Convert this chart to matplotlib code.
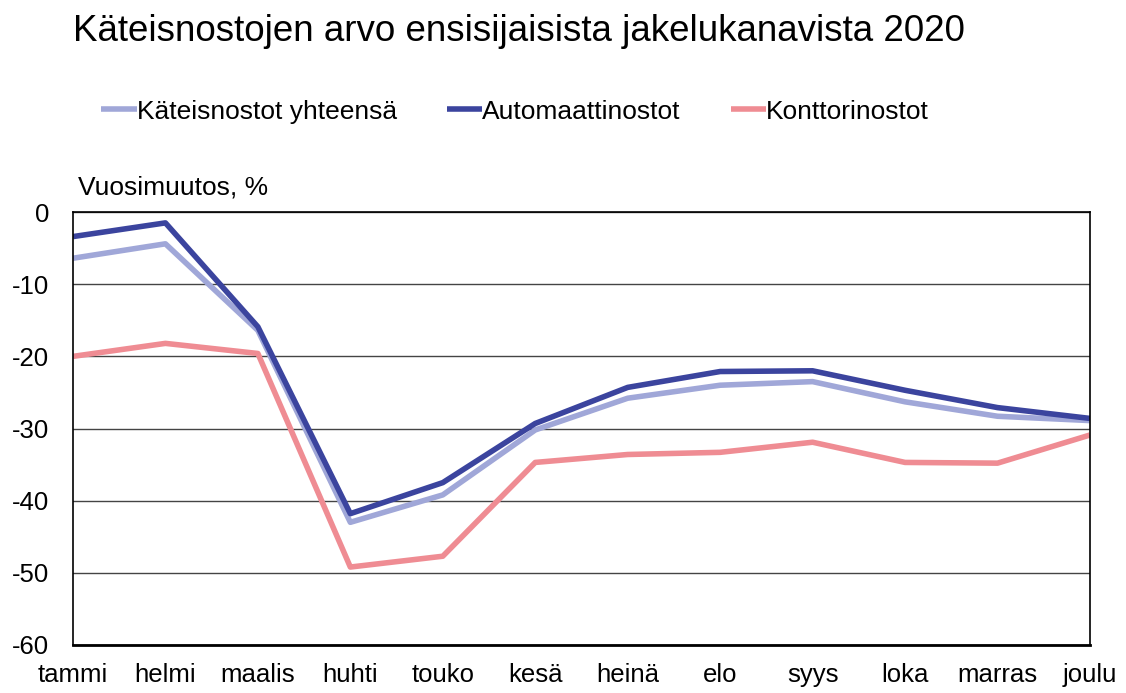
import matplotlib
matplotlib.use("Agg")
import matplotlib.pyplot as plt

plt.rcParams['font.family'] = ['Liberation Sans', 'DejaVu Sans']
plt.rcParams['axes.unicode_minus'] = False

months = ["tammi", "helmi", "maalis", "huhti", "touko", "kesä",
          "heinä", "elo", "syys", "loka", "marras", "joulu"]

# vuosimuutos, %
yhteensa = [-6.4, -4.4, -16.4, -43.0, -39.2, -30.2, -25.8, -24.0, -23.5, -26.3, -28.3, -28.9]
automaatti = [-3.4, -1.5, -15.9, -41.8, -37.5, -29.3, -24.3, -22.1, -22.0, -24.7, -27.1, -28.6]
konttori = [-20.0, -18.2, -19.6, -49.2, -47.7, -34.7, -33.6, -33.3, -31.9, -34.7, -34.8, -30.9]

fig = plt.figure(figsize=(11.26, 6.93), dpi=100)
ax = fig.add_axes([0.0648, 0.0693, 0.9032, 0.6247])

x = range(len(months))
ax.plot(x, yhteensa, color="#a0a7d8", lw=4, label="Käteisnostot yhteensä", solid_capstyle="butt")
ax.plot(x, automaatti, color="#3b449e", lw=4, label="Automaattinostot", solid_capstyle="butt")
ax.plot(x, konttori, color="#ef8c93", lw=4, label="Konttorinostot", solid_capstyle="butt")

ax.set_xlim(0, 11)
ax.set_ylim(-60, 0)
ax.set_yticks(range(-60, 1, 10))
ax.set_xticks(list(x))
ax.set_xticklabels(months)
ax.tick_params(length=0, labelsize=18.5)
ax.tick_params(axis="x", pad=13)
ax.tick_params(axis="y", pad=17)
ax.grid(axis="y", color="#444444", lw=1)
ax.set_axisbelow(True)
for s in ax.spines.values():
    s.set_color("black")
    s.set_linewidth(1.2)
ax.spines["bottom"].set_linewidth(2)

fig.text(0.069, 0.73, "Vuosimuutos, %", fontsize=19, ha="left", va="center")
fig.text(0.065, 0.955, "Käteisnostojen arvo ensisijaisista jakelukanavista 2020",
         fontsize=26.5, ha="left", va="center")

fig.legend(loc="center left", bbox_to_anchor=(0.069, 0.839), ncol=3, frameon=False,
           fontsize=19, handlelength=1.33, handletextpad=0.0, columnspacing=1.9)

fig.savefig("out.png", dpi=100)
